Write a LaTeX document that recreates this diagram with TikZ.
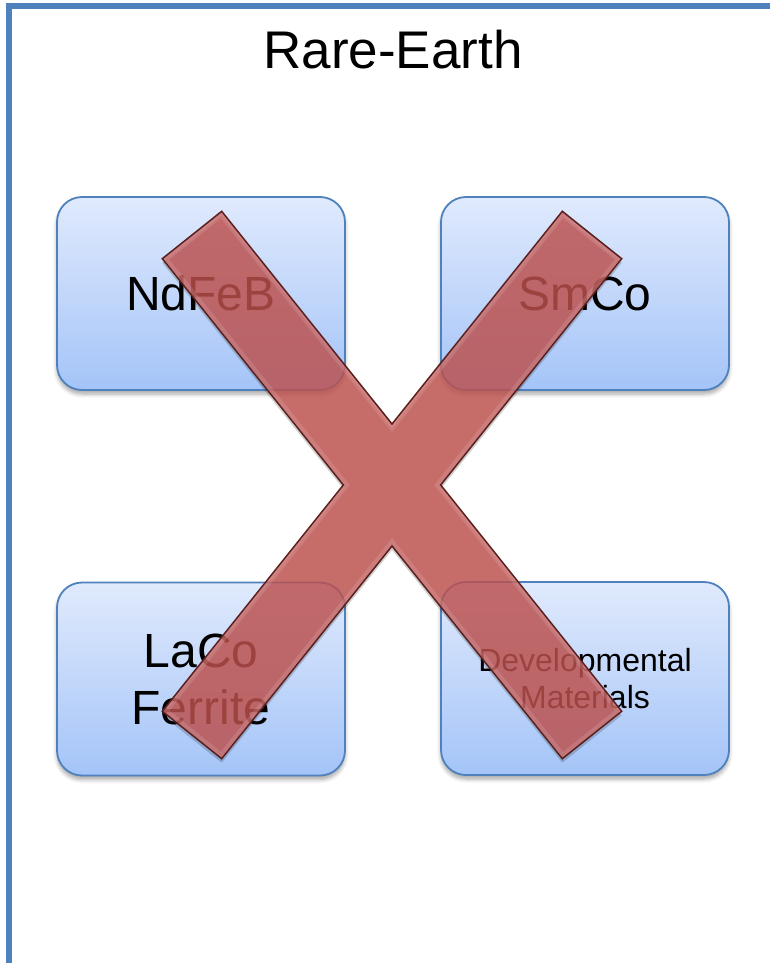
\documentclass[tikz,border=0pt]{standalone}
\usepackage{fontspec}
\setmainfont{Liberation Sans}
\usetikzlibrary{shadows.blur}
\definecolor{frameblue}{RGB}{79,129,189}
\definecolor{boxtop}{RGB}{224,234,253}
\definecolor{boxbot}{RGB}{164,196,248}
\definecolor{xred}{RGB}{196,84,81}
\definecolor{xborder}{RGB}{90,32,30}
\tikzset{
  matbox/.style={draw=frameblue, line width=1.8pt, rounded corners=25pt,
    top color=boxtop, bottom color=boxbot, minimum width=288pt, minimum height=193pt,
    inner sep=0pt, align=center,
    blur shadow={shadow xshift=0pt, shadow yshift=-4pt, shadow opacity=35, shadow blur steps=6, shadow blur radius=4pt}},
  bigtxt/.style={font=\fontsize{48}{57}\selectfont},
  smalltxt/.style={font=\fontsize{32}{37}\selectfont},
}
\begin{document}
\begin{tikzpicture}[x=1pt,y=-1pt]
\useasboundingbox (0,0) rectangle (769,963);
% frame
\coordinate (fb) at (9,975);
\coordinate (fc) at (9,6);
\coordinate (fr) at (785,6);
\draw[frameblue, line width=6pt, line join=miter] (fb) -- (fc) -- (fr);
% title
\node[inner sep=0pt, font=\fontsize{53}{60}\selectfont] (title) at (393,50) {Rare-Earth};
% boxes
\node[matbox, bigtxt] (ndfeb) at (201,293.5) {NdFeB};
\node[matbox, bigtxt] (smco) at (585,293.5) {SmCo};
\node[matbox, bigtxt] (laco) at (201,679) {LaCo\\Ferrite};
\node[matbox, smalltxt] (dev) at (585,678.5) {Developmental\\Materials};
% X mark
\def\xpath{(162.3,258.7) -- (221.7,211.3) -- (392,424) -- (562.3,211.3) -- (621.7,258.7) -- (440.7,485) -- (621.7,711.3) -- (562.3,758.7) -- (392,546) -- (221.7,758.7) -- (162.3,711.3) -- (343.3,485) -- cycle}
\fill[black, opacity=0.18, shift={(0,4)}] \xpath;
\fill[xred, fill opacity=0.8] \xpath;
\begin{scope}
\clip \xpath;
\draw[white, line width=10pt, opacity=0.12, line join=miter] \xpath;
\end{scope}
\draw[xborder, line width=1.5pt, line join=miter] \xpath;
\end{tikzpicture}
\end{document}
